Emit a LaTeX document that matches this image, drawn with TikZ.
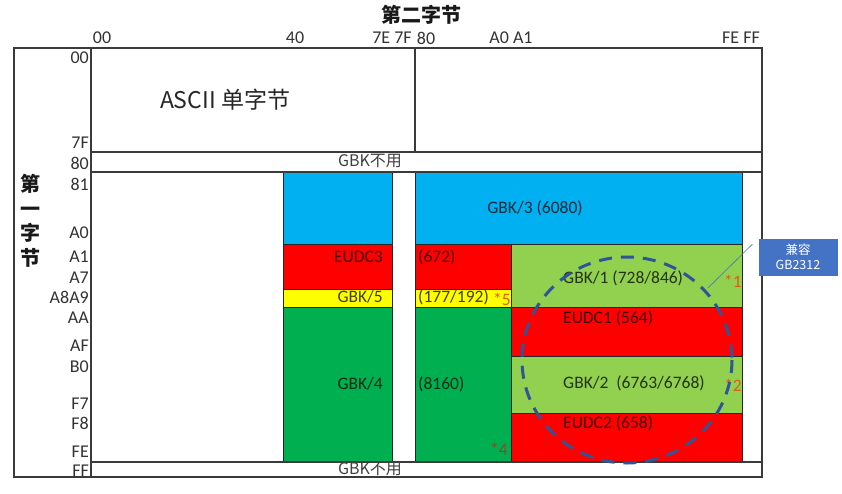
\documentclass[tikz,border=0pt]{standalone}
\usepackage{fontspec}
\setmainfont{Carlito}
\newfontfamily\cjk{Noto Sans CJK SC}
\definecolor{framegray}{HTML}{3A3A3A}
\definecolor{cblue}{HTML}{00B0F0}
\definecolor{cred}{HTML}{FF0000}
\definecolor{cyellow}{HTML}{FFFF00}
\definecolor{cdgreen}{HTML}{00B050}
\definecolor{clgreen}{HTML}{92D050}
\definecolor{callblue}{HTML}{4472C4}
\definecolor{dashblue}{HTML}{2F5597}
\definecolor{starorange}{HTML}{D8601A}
\definecolor{starbrown}{HTML}{8A4A2A}
\begin{document}
\begin{tikzpicture}[x=1pt,y=-1pt,
  frame/.style={draw=framegray, line width=1.5pt},
  cell/.style={draw=black!85, line width=0.8pt},
  axis/.style={font=\fontsize{18}{18}\selectfont, text=black!80, inner sep=0pt},
  rowlbl/.style={axis, anchor=east},
  celltext/.style={font=\fontsize{17.5}{17.5}\selectfont, text=black, text opacity=0.75, inner sep=0pt},
  star/.style={font=\fontsize{17.5}{17.5}\selectfont, text=starorange, inner sep=0pt},
  title/.style={font=\cjk\bfseries\fontsize{20}{20}\selectfont, text=black!90, inner sep=0pt},
  unused/.style={font=\cjk\fontsize{16}{16}\selectfont, text=black!75, inner sep=0pt},
  callout/.style={fill=callblue, text=white, font=\cjk\fontsize{12.5}{15}\selectfont, align=center, minimum width=79pt, minimum height=37pt, inner sep=0pt},
  ring/.style={draw=dashblue, line width=3pt, dash pattern=on 13pt off 9pt}
]
\useasboundingbox[fill=white] (0,0) rectangle (842,493);

% coloured cells
\filldraw[cell, fill=cblue] (283,172) rectangle (392,244);
\filldraw[cell, fill=cblue] (415,172) rectangle (742,244);
\filldraw[cell, fill=cred] (283,244) rectangle (392,289);
\filldraw[cell, fill=cred] (415,244) rectangle (511,289);
\filldraw[cell, fill=cyellow] (283,289) rectangle (392,307);
\filldraw[cell, fill=cyellow] (415,289) rectangle (511,307);
\filldraw[cell, fill=cdgreen] (283,307) rectangle (392,462);
\filldraw[cell, fill=cdgreen] (415,307) rectangle (511,462);
\filldraw[cell, fill=clgreen] (511,244) rectangle (742,307);
\filldraw[cell, fill=cred] (511,307) rectangle (742,356);
\filldraw[cell, fill=clgreen] (511,356) rectangle (742,413);
\filldraw[cell, fill=cred] (511,413) rectangle (742,462);

% frame
\draw[frame] (14,48) rectangle (762,477);
\draw[frame] (91,48) -- (91,477);
\draw[frame] (91,152) -- (762,152);
\draw[frame] (415,48) -- (415,152);
\draw[frame] (91,172) -- (762,172);
\draw[frame] (91,462) -- (762,462);

% titles
\node[title] (t2) at (421,15) {第二字节};
\node[title, align=center, font=\cjk\bfseries\fontsize{20}{24.5}\selectfont] (t1) at (30,221) {第\\一\\字\\节};

% column labels
\node[axis] (c00) at (102,38) {00};
\node[axis] (c40) at (295,38) {40};
\node[axis] (c7e) at (392,38) {7E 7F};
\node[axis] (c80) at (426,38) {80};
\node[axis] (ca0) at (511,38) {A0 A1};
\node[axis] (cfe) at (741,38) {FE FF};

% row labels
\node[rowlbl] (r00) at (89,58) {00};
\node[rowlbl] (r7f) at (89,143) {7F};
\node[rowlbl] (r80) at (89,163) {80};
\node[rowlbl] (r81) at (89,184) {81};
\node[rowlbl] (ra0) at (89,233) {A0};
\node[rowlbl] (ra1) at (89,257) {A1};
\node[rowlbl] (ra7) at (89,278) {A7};
\node[rowlbl] (ra8) at (89,297) {A8A9};
\node[rowlbl] (raa) at (89,318) {AA};
\node[rowlbl] (raf) at (89,346) {AF};
\node[rowlbl] (rb0) at (89,367) {B0};
\node[rowlbl] (rf7) at (89,404) {F7};
\node[rowlbl] (rf8) at (89,423) {F8};
\node[rowlbl] (rfe) at (89,452) {FE};
\node[rowlbl] (rff) at (89,471) {FF};

% region texts
\node[font=\cjk\fontsize{23}{23}\selectfont, text=black!85, inner sep=0pt] (ascii) at (225,100) {ASCII 单字节};
\node[unused] (un1) at (370,161) {GBK不用};
\node[unused] (un2) at (370,469) {GBK不用};

\node[celltext] (g3) at (535,208) {GBK/3 (6080)};
\node[celltext, anchor=east] (e3a) at (383,257) {EUDC3};
\node[celltext, anchor=west] (e3b) at (418,257) {(672)};
\node[celltext, anchor=east] (g5a) at (383,297) {GBK/5};
\node[celltext, anchor=west] (g5b) at (418,297) {(177/192)};
\node[star, anchor=west] (s5) at (493,299) {*5};
\node[star, text=starbrown, anchor=west] (s4) at (490,449) {*4};
\node[celltext, anchor=east] (g4a) at (383,384) {GBK/4};
\node[celltext, anchor=west] (g4b) at (418,384) {(8160)};
\node[celltext, anchor=west] (g1) at (563,278) {GBK/1 (728/846)};
\node[star, anchor=west] (s1) at (724,281) {*1};
\node[celltext, anchor=west] (e1) at (563,318) {EUDC1 (564)};
\node[celltext, anchor=west] (g2) at (563,383) {GBK/2\ \ (6763/6768)};
\node[star, anchor=west] (s2) at (724,385) {*2};
\node[celltext, anchor=west] (e2) at (563,423) {EUDC2 (658)};

% dashed ring
\draw[ring] (627,360) ellipse [x radius=105, y radius=103];

% callout
\node[callout] (gb) at (798,257) {兼容\\GB2312};
\coordinate (tip) at (708,288);
\draw[callblue, line width=0.6pt] (gb.north west) ++(-6,6) -- (tip);
\end{tikzpicture}
\end{document}
